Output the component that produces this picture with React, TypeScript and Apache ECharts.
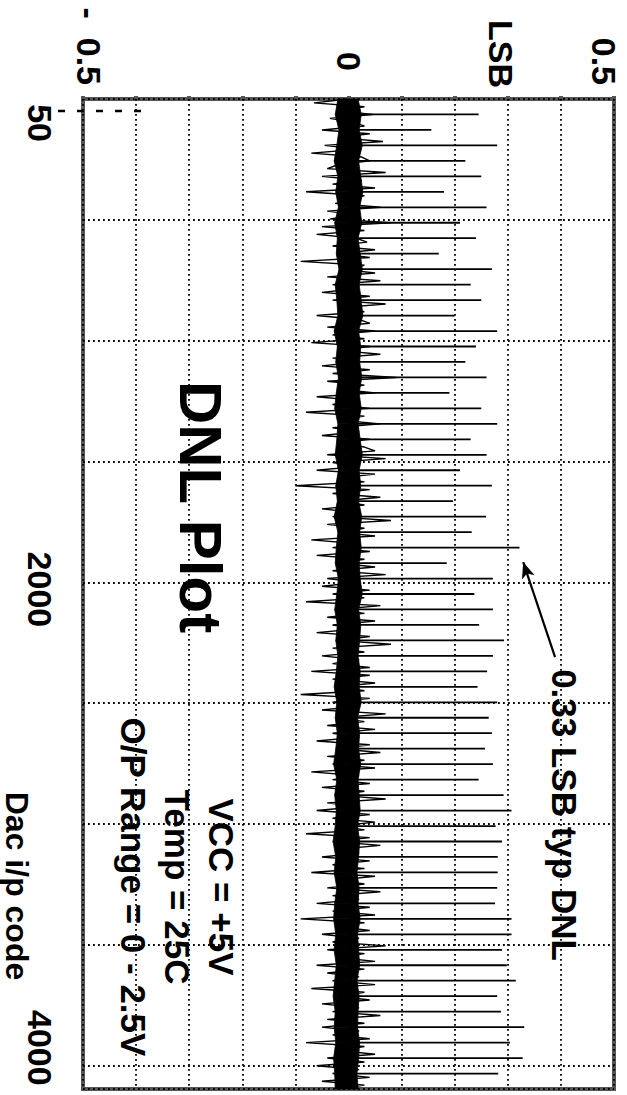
import React, { useEffect, useRef } from "react";
import * as echarts from "echarts";

// DAC input codes (x, runs top to bottom) and DNL in LSB (y, runs left to right)
const codeStep = 16;
const coreStep = 64;
const spikeStep = 64;
const noiseLSB = [
  0.0, -0.065, 0.03, -0.02, 0.045, -0.035, 0.01, 0.03, -0.05, 0.04, -0.02, 0.065, -0.045, 0.02, -0.07, 0.025,
  0.04, -0.02, -0.04, 0.07, -0.05, 0.025, -0.03, 0.05, -0.08, 0.03, 0.01, -0.025, 0.06, -0.04, 0.02, -0.035,
  0.08, -0.05, 0.03, -0.06, 0.015, 0.035, -0.03, 0.05, -0.02, 0.04, -0.09, 0.03, -0.015, 0.05, -0.04, 0.06,
  -0.03, 0.02, -0.05, 0.04, -0.03, 0.07, -0.02, 0.03, -0.06, 0.02, 0.04, -0.04, 0.05, -0.03, 0.03, -0.07,
  0.04, -0.02, 0.06, -0.03, 0.02, -0.05, 0.04, -0.03, 0.09, -0.04, 0.03, -0.02, 0.05, -0.06, 0.02, -0.03,
  0.04, -0.08, 0.03, -0.02, 0.06, -0.03, 0.02, -0.05, 0.04, -0.02, 0.03, 0.05, -0.04, 0.07, -0.03, 0.02,
  -0.06, 0.05, -0.02, 0.03, -0.1, 0.04, -0.03, 0.06, -0.02, 0.03, -0.05, 0.02, -0.03, 0.08, -0.04, 0.03,
  -0.02, 0.05, -0.07, 0.02, -0.03, 0.04, -0.06, 0.03, -0.02, 0.05, -0.03, 0.07, -0.04, 0.02, -0.05, 0.04,
  -0.03, 0.03, -0.08, 0.06, -0.02, 0.03, -0.04, 0.05, -0.03, 0.02, -0.06, 0.04, -0.02, 0.08, -0.03, 0.03,
  -0.05, 0.02, -0.03, 0.04, -0.07, 0.04, -0.03, 0.05, -0.02, 0.03, -0.09, 0.04, -0.03, 0.02, -0.05, 0.07,
  -0.02, 0.03, -0.04, 0.05, -0.03, 0.02, -0.06, 0.04, -0.02, 0.06, -0.04, 0.03, -0.03, 0.05, -0.07, 0.02,
  -0.03, 0.04, -0.05, 0.03, -0.02, 0.07, -0.04, 0.02, -0.06, 0.04, -0.03, 0.05, -0.02, 0.03, -0.08, 0.04,
  -0.03, 0.06, -0.02, 0.02, -0.05, 0.04, -0.03, 0.03, -0.07, 0.05, -0.02, 0.03, -0.04, 0.06, -0.03, 0.02,
  -0.06, 0.04, -0.03, 0.05, -0.09, 0.03, -0.02, 0.04, -0.05, 0.02, -0.03, 0.07, -0.04, 0.03, -0.02, 0.05,
  -0.06, 0.03, -0.04, 0.02, -0.03, 0.05, -0.07, 0.03, -0.02, 0.04, -0.05, 0.02, -0.03, 0.06, -0.04, 0.03,
  -0.05, 0.02, -0.03, 0.04, -0.08, 0.03, -0.02, 0.05, -0.04, 0.03, -0.06, 0.02, -0.03, 0.04, -0.05, 0.03,
  -0.02,
];
// dense core of the noise band (lower / upper edge every 64 codes)
const coreLowLSB = [
  -0.02, -0.025, -0.018, -0.022, -0.027, -0.02, -0.024, -0.019, -0.026, -0.021, -0.023, -0.018, -0.025,
  -0.022, -0.02, -0.027, -0.021, -0.024, -0.019, -0.023, -0.026, -0.02, -0.022, -0.025, -0.019, -0.024,
  -0.021, -0.027, -0.02, -0.023, -0.025, -0.019, -0.022, -0.026, -0.021, -0.024, -0.02, -0.023, -0.027,
  -0.022, -0.025, -0.021, -0.024, -0.028, -0.022, -0.026, -0.023, -0.025, -0.029, -0.024, -0.027, -0.022,
  -0.026, -0.028, -0.024, -0.027, -0.023, -0.026, -0.029, -0.025, -0.027, -0.024, -0.028, -0.026, -0.025,
];
const coreHighLSB = [
  0.018, 0.024, 0.02, 0.026, 0.019, 0.023, 0.027, 0.021, 0.025, 0.018, 0.022, 0.026, 0.02, 0.024, 0.027,
  0.019, 0.023, 0.021, 0.025, 0.02, 0.024, 0.018, 0.022, 0.026, 0.02, 0.023, 0.019, 0.025, 0.021, 0.024,
  0.02, 0.022, 0.026, 0.019, 0.023, 0.021, 0.018, 0.022, 0.02, 0.024, 0.017, 0.021, 0.019, 0.023, 0.018,
  0.02, 0.022, 0.017, 0.021, 0.019, 0.016, 0.02, 0.018, 0.022, 0.017, 0.019, 0.021, 0.016, 0.02, 0.018,
  0.017, 0.021, 0.019, 0.016, 0.018,
];
// major-carry spikes at every 64th code (64, 128, ... 4032)
const spikeLSB = [
  0.245, 0.156, 0.28, 0.22, 0.25, 0.18, 0.26, 0.21, 0.24, 0.17, 0.27, 0.23, 0.25, 0.2, 0.28, 0.24,
  0.22, 0.26, 0.19, 0.25, 0.28, 0.23, 0.26, 0.21, 0.27, 0.197, 0.259, 0.232, 0.322, 0.185, 0.272, 0.237,
  0.272, 0.246, 0.293, 0.272, 0.261, 0.243, 0.28, 0.264, 0.27, 0.257, 0.272, 0.245, 0.292, 0.307, 0.277,
  0.289, 0.281, 0.281, 0.28, 0.276, 0.307, 0.307, 0.289, 0.298, 0.315, 0.28, 0.287, 0.331, 0.304, 0.328,
  0.282,
];
const codeLabelValues = [50, 2000, 4000];
const codeLabelTexts = ["{a|50}", "{b|2000}", "{c|4000}"];
const lsbLabelValues = [-0.5, 0, 0.5];
const lsbLabelTexts = ["{l|-  0.5}", "{m|0}", "{r|0.5}"];
const arrowFrom = [0.389, 2309];
const arrowTo = [0.329, 1916];
const markerCode = 50;
const markerEndLSB = -0.39;

const FONT = "'Liberation Sans', Arial, sans-serif";
const CW = -Math.PI / 2;

export default function App() {
  const ref = useRef<HTMLDivElement>(null);
  useEffect(() => {
    if (!ref.current) return;
    const chart = echarts.init(ref.current, null, { renderer: "svg" });
    const noiseData = noiseLSB.map((v, i) => [v, i * codeStep]);
    const spikeData = spikeLSB.map((v, i) => [v, (i + 1) * spikeStep]);
    const coreData = coreLowLSB.slice(0, -1).map((lo, i) => [
      lo,
      coreHighLSB[i],
      i * coreStep,
      coreLowLSB[i + 1],
      coreHighLSB[i + 1],
      (i + 1) * coreStep,
    ]);
    const txt = (text: string, x: number, y: number, size: number, extra: any = {}) => ({
      type: "text",
      x,
      y,
      rotation: CW,
      silent: true,
      style: {
        text,
        fill: "#000",
        font: `bold ${size}px ${FONT}`,
        align: "center",
        verticalAlign: "middle",
        ...extra,
      },
    });
    const labelFont = { fontSize: 34, fontWeight: "bold", color: "#000", fontFamily: FONT };
    const dotted = { color: "#000", width: 1.8, type: [1.8, 3.2] };
    chart.setOption({
      animation: false,
      backgroundColor: "#fff",
      textStyle: { fontFamily: FONT },
      grid: {
        left: 83,
        right: 13,
        top: 99,
        bottom: 6,
        show: true,
        borderColor: "#555",
        borderWidth: 4,
        backgroundColor: "transparent",
        containLabel: false,
        outerBoundsMode: "none",
      },
      xAxis: {
        type: "value",
        position: "top",
        min: -0.5,
        max: 0.5,
        interval: 0.1,
        axisLine: { show: false },
        axisTick: { show: true, length: 3, lineStyle: { color: "#555", width: 4 } },
        splitLine: { show: true, lineStyle: dotted },
        axisLabel: {
          customValues: lsbLabelValues,
          formatter: (v: number) => {
            const i = lsbLabelValues.findIndex((t) => Math.abs(t - v) < 1e-9);
            return i >= 0 ? lsbLabelTexts[i] : "";
          },
          rotate: -90,
          margin: 14,
          ...labelFont,
          rich: {
            l: { ...labelFont, padding: [0, 0, 12, 0] },
            m: { ...labelFont, padding: [0, 14, 0, 0] },
            r: { ...labelFont, padding: [20, 0, 0, 0] },
          },
          showMinLabel: true,
          showMaxLabel: true,
        },
      },
      yAxis: {
        type: "value",
        inverse: true,
        min: 0,
        max: 4096,
        interval: 500,
        axisLine: { show: false },
        axisTick: { show: false },
        splitLine: { show: true, lineStyle: dotted },
        axisLabel: {
          customValues: codeLabelValues,
          formatter: (v: number) => {
            const i = codeLabelValues.indexOf(v);
            return i >= 0 ? codeLabelTexts[i] : "";
          },
          rotate: -90,
          margin: 26,
          ...labelFont,
          rich: {
            a: { ...labelFont, padding: [0, 0, 0, 24] },
            b: { ...labelFont, padding: [0, 0, 0, 14] },
            c: { ...labelFont, padding: [0, 36, 0, 0] },
          },
          showMinLabel: true,
          showMaxLabel: true,
        },
      },
      series: [
        {
          type: "custom",
          data: coreData,
          encode: { x: [0, 1, 3, 4], y: [2, 5] },
          renderItem: (params: any, api: any) => {
            const a = api.coord([api.value(0), api.value(2)]);
            const b = api.coord([api.value(1), api.value(2)]);
            const c = api.coord([api.value(4), api.value(5)]);
            const d = api.coord([api.value(3), api.value(5)]);
            return {
              type: "polygon",
              shape: { points: [a, b, c, d] },
              style: { fill: "#000", stroke: "#000", lineWidth: 0.8 },
            };
          },
        },
        {
          type: "line",
          data: noiseData,
          showSymbol: false,
          symbol: "none",
          lineStyle: { color: "#000", width: 1.4 },
          markLine: {
            silent: true,
            animation: false,
            label: { show: false },
            data: [
              [
                { coord: arrowFrom, symbol: "none" },
                { coord: arrowTo, symbol: "arrow", symbolSize: [10, 16] },
              ],
            ],
            lineStyle: { color: "#000", width: 2.2, type: "solid" },
          },
        },
        {
          type: "custom",
          data: spikeData,
          encode: { x: 0, y: 1 },
          renderItem: (params: any, api: any) => {
            const c = api.value(1);
            const p0 = api.coord([0, c]);
            const p1 = api.coord([api.value(0), c]);
            return {
              type: "line",
              shape: { x1: p0[0], y1: p0[1], x2: p1[0], y2: p1[1] },
              style: { stroke: "#000", lineWidth: 1.8 },
            };
          },
        },
      ],
    });
    // dashed marker line for code 50, crossing the left frame
    const pEnd = chart.convertToPixel({ xAxisIndex: 0, yAxisIndex: 0 }, [markerEndLSB, markerCode]) as number[];
    const pFrame = chart.convertToPixel({ xAxisIndex: 0, yAxisIndex: 0 }, [-0.5, markerCode]) as number[];
    chart.setOption({
      graphic: [
        {
          type: "line",
          silent: true,
          shape: { x1: pFrame[0] - 25, y1: pFrame[1], x2: pEnd[0], y2: pEnd[1] },
          style: { stroke: "#000", lineWidth: 2.5, lineDash: [7, 12] },
        },
        txt("LSB", 501, 54, 34),
        txt("DNL Plot", 200, 507, 60),
        txt("VCC = +5V\nTemp = 25C\nO/P Range = 0 - 2.5V", 177, 887, 35, { lineHeight: 44 }),
        txt("0.33 LSB typ DNL", 564, 815, 35),
        txt("Dac i/p code", 17, 886, 32),
      ],
    });
    return () => chart.dispose();
  }, []);
  return (
    <div
      ref={ref}
      style={{ position: "fixed", left: 0, top: 0, width: 627, height: 1095, background: "#fff" }}
    />
  );
}
